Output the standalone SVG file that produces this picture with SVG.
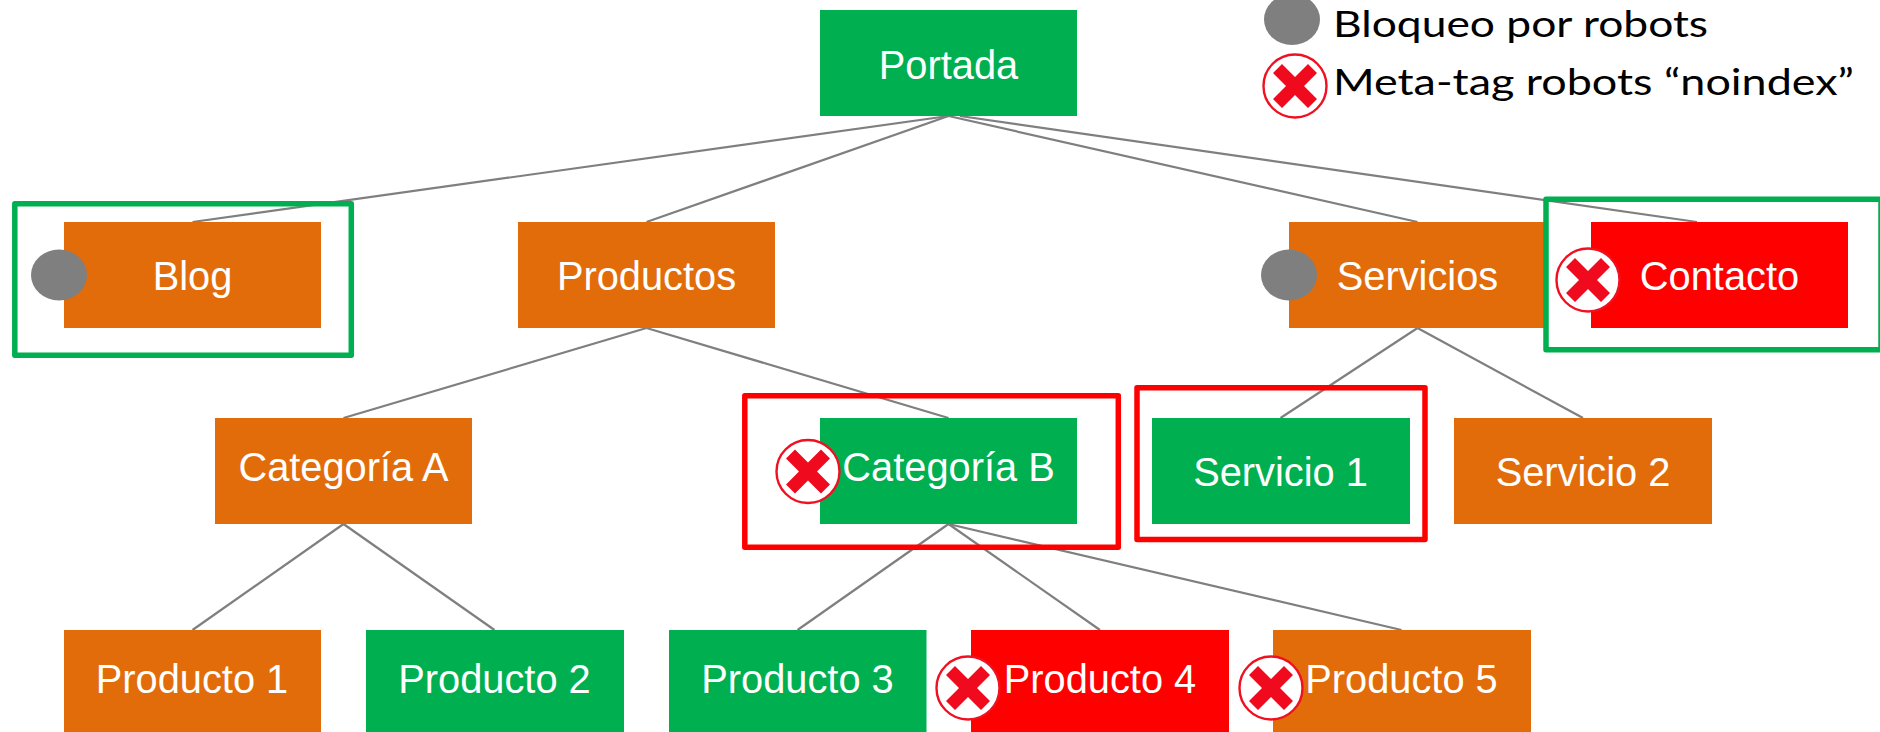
<svg xmlns="http://www.w3.org/2000/svg" width="1880" height="732" viewBox="0 0 1880 732">
<style>
.o{fill:#e36c0a}.g{fill:#00b050}.r{fill:#ff0000}
.t{font-family:"Liberation Sans",Arial,sans-serif;font-size:39.8px;fill:#fff;text-anchor:middle}
.l{font-family:Lato,"Open Sans",sans-serif;font-size:37.500px;fill:#000}
.c line{stroke:#7f7f7f;stroke-width:2.2}
.f{fill:none;stroke-width:5.5;stroke-linejoin:round}
.dot{fill:#7f7f7f}
</style>
<defs>
<g id="nx">
<circle r="31.5" fill="#fff" stroke="#f01020" stroke-width="2.4"/>
<path d="M-13-22 0-9 13-22 22-13 9 0 22 13 13 22 0 9-13 22-22 13-9 0-22-13Z" fill="#f00a1e"/>
</g>
</defs>
<rect width="1880" height="732" fill="#fff"/>
<g id="connectors" class="c">
<line x1="948.5" y1="116" x2="192.5" y2="222"/>
<line x1="948.5" y1="116" x2="646.5" y2="222"/>
<line x1="948.5" y1="116" x2="1417.5" y2="222"/>
<line x1="960" y1="116" x2="1697" y2="222"/>
<line x1="646.5" y1="328" x2="343.5" y2="418"/>
<line x1="646.5" y1="328" x2="948.5" y2="418"/>
<line x1="1417.5" y1="328" x2="1280.5" y2="418"/>
<line x1="1417.5" y1="328" x2="1583" y2="418"/>
<line x1="343.5" y1="524" x2="192.5" y2="630"/>
<line x1="343.5" y1="524" x2="494.5" y2="630"/>
<line x1="948.5" y1="524" x2="797.5" y2="630"/>
<line x1="948.5" y1="524" x2="1100" y2="630"/>
<line x1="948.5" y1="524" x2="1401.5" y2="630"/>
</g>
<g id="portada"><rect class="g" x="820" y="10" width="257" height="106"/><text class="t" x="948.5" y="78.5">Portada</text></g>
<g id="blog"><rect class="o" x="64" y="222" width="257" height="106"/><ellipse class="dot" cx="59" cy="275" rx="28" ry="25.5"/><text class="t" x="192.5" y="289.5">Blog</text></g>
<g id="productos"><rect class="o" x="518" y="222" width="257" height="106"/><text class="t" x="646.5" y="289.5">Productos</text></g>
<g id="servicios"><rect class="o" x="1289" y="222" width="257" height="106"/><ellipse class="dot" cx="1289" cy="275" rx="28" ry="25.5"/><text class="t" x="1417.5" y="289.5">Servicios</text></g>
<g id="contacto"><rect class="r" x="1591" y="222" width="257" height="106"/><use href="#nx" transform="translate(1588 280)"/><text class="t" x="1719.5" y="289.5">Contacto</text></g>
<g id="categoria-a"><rect class="o" x="215" y="418" width="257" height="106"/><text class="t" x="343.5" y="480.5">Categoría A</text></g>
<g id="categoria-b"><rect class="g" x="820" y="418" width="257" height="106"/><use href="#nx" transform="translate(808 471.5)"/><text class="t" x="948.5" y="480.5">Categoría B</text></g>
<g id="servicio-1"><rect class="g" x="1152" y="418" width="258" height="106"/><text class="t" x="1280.5" y="486">Servicio 1</text></g>
<g id="servicio-2"><rect class="o" x="1454" y="418" width="258" height="106"/><text class="t" x="1583" y="486">Servicio 2</text></g>
<g id="producto-1"><rect class="o" x="64" y="630" width="257" height="102"/><text class="t" x="192" y="692.5">Producto 1</text></g>
<g id="producto-2"><rect class="g" x="366" y="630" width="258" height="102"/><text class="t" x="494.5" y="692.5">Producto 2</text></g>
<g id="producto-3"><rect class="g" x="669" y="630" width="257.500" height="102"/><text class="t" x="797.5" y="692.500">Producto 3</text></g>
<g id="producto-4"><rect class="r" x="971" y="630" width="258" height="102"/><use href="#nx" transform="translate(968 688)"/><text class="t" x="1100" y="692.5">Producto 4</text></g>
<g id="producto-5"><rect class="o" x="1273" y="630" width="258" height="102"/><use href="#nx" transform="translate(1271 688)"/><text class="t" x="1401.5" y="692.5">Producto 5</text></g>
<g id="frames">
<rect class="f" stroke="#00b050" x="14.8" y="203.8" width="336.5" height="151.5"/>
<rect class="f" stroke="#00b050" x="1546" y="199.2" width="335" height="150.6"/>
<rect class="f" stroke="#ff0000" x="744.8" y="395.8" width="373.5" height="151.5"/>
<rect class="f" stroke="#ff0000" x="1137" y="387.8" width="288" height="151.8"/>
</g>
<g id="legend">
<ellipse class="dot" cx="1292" cy="19.5" rx="28" ry="25.5"/>
<text class="l" x="1333" y="37" textLength="375" lengthAdjust="spacingAndGlyphs">Bloqueo por robots</text>
<use href="#nx" transform="translate(1295 86)"/>
<text class="l" x="1333" y="95" textLength="521" lengthAdjust="spacingAndGlyphs">Meta-tag robots “noindex”</text>
</g>
</svg>
